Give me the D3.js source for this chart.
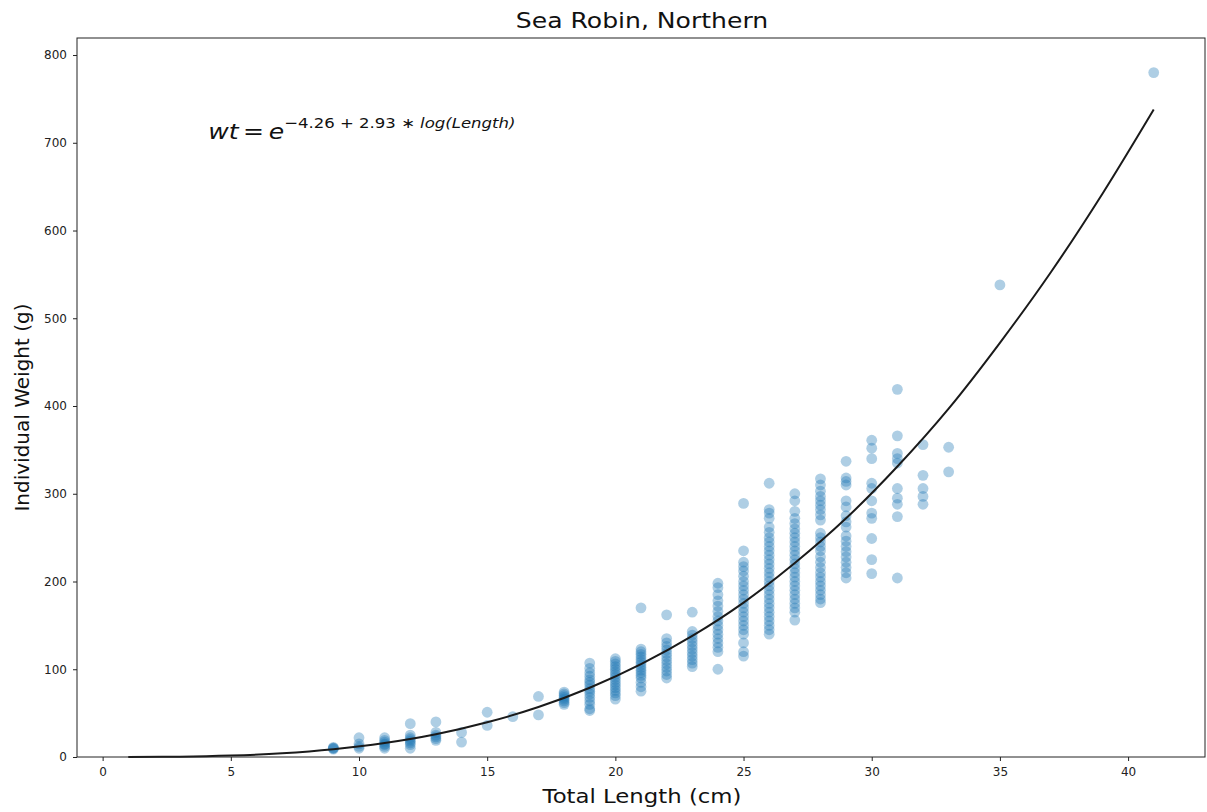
<!DOCTYPE html>
<html>
<head>
<meta charset="utf-8">
<script src="https://cdn.jsdelivr.net/npm/d3@7"></script>
<style>
  body { margin: 0; background: #fff; }
  svg { font-family: "DejaVu Sans", sans-serif; }
</style>
</head>
<body>
<svg id="chart" width="1207" height="812"></svg>
<script>
// ---- data ----
const lengths = [9, 10, 11, 12, 13, 14, 15, 16, 17, 18, 19, 20, 21, 22, 23, 24, 25, 26, 27, 28, 29, 30, 31, 32, 33, 35, 41];
const weights = [
  [9, 10, 10, 11],
  [22, 15, 12, 10],
  [22, 19, 17, 15, 14, 12, 10],
  [38, 25, 22, 20, 18, 16, 14, 10],
  [40, 28, 25, 23, 21, 19],
  [28, 17],
  [51, 36],
  [46],
  [69, 48],
  [74, 72, 70, 68, 66, 64, 62, 60],
  [107, 101, 96, 92, 88, 85, 82, 78, 75, 72, 68, 64, 60, 55, 53],
  [112, 109, 106, 103, 100, 97, 94, 91, 88, 85, 82, 79, 76, 73, 70, 66],
  [170, 123, 120, 117, 114, 111, 108, 105, 102, 99, 96, 93, 90, 85, 80, 75],
  [162, 135, 130, 126, 122, 118, 114, 110, 106, 102, 98, 94, 90],
  [165, 143, 139, 135, 131, 127, 123, 119, 115, 111, 107, 103],
  [198, 193, 185, 178, 172, 166, 160, 155, 150, 145, 140, 135, 130, 125, 120, 100],
  [289, 235, 222, 217, 212, 206, 200, 195, 190, 185, 180, 175, 170, 165, 160, 155, 150, 145, 140, 130, 120, 115],
  [312, 282, 278, 272, 262, 256, 250, 245, 240, 235, 230, 225, 220, 215, 210, 205, 200, 195, 190, 185, 180, 175, 170, 165, 160, 155, 150, 145, 140],
  [300, 292, 280, 272, 266, 260, 255, 250, 245, 240, 235, 230, 225, 220, 215, 210, 205, 200, 195, 190, 185, 180, 175, 170, 165, 156],
  [317, 310, 303, 297, 292, 287, 282, 276, 270, 255, 250, 245, 240, 235, 228, 222, 216, 210, 205, 200, 195, 190, 185, 180, 176],
  [337, 318, 314, 310, 292, 285, 275, 268, 262, 252, 246, 240, 234, 228, 222, 216, 210, 204],
  [361, 352, 340, 312, 306, 292, 278, 272, 249, 225, 209],
  [419, 366, 346, 340, 335, 306, 295, 288, 274, 204],
  [356, 321, 306, 297, 288],
  [353, 325],
  [538],
  [780]
];
// fitted curve
const curveLengths = [1, 3, 5, 7, 9, 11, 13, 15, 17, 19, 21, 23, 25, 27, 29, 31, 33, 35, 37, 39, 41];
const curveWeights = [0.01, 0.35, 1.6, 4.2, 8.8, 15.9, 25.9, 39.5, 56.9, 78.9, 105.8, 138, 176, 221, 272, 331, 397, 472, 553, 642, 738];
const xTicks = [0, 5, 10, 15, 20, 25, 30, 35, 40];
const yTicks = [0, 100, 200, 300, 400, 500, 600, 700, 800];

const points = [];
lengths.forEach((L, i) => weights[i].forEach(w => points.push({L, w})));

// ---- layout ----
const svg = d3.select("#chart");
const mLeft = 77, mRight = 1205, mTop = 38, mBottom = 757;
const x = d3.scaleLinear().domain([-1, 43]).range([mLeft, mRight]);
const y = d3.scaleLinear().domain([0, 819.4]).range([mBottom, mTop]);
const hStretch = 1.14;

// points
svg.append("g").selectAll("circle").data(points).join("circle")
  .attr("cx", d => x(d.L)).attr("cy", d => y(d.w)).attr("r", 5.4)
  .attr("fill", "#1f77b4").attr("fill-opacity", 0.36);

// curve
svg.append("path")
  .datum(curveLengths.map((L, i) => [L, curveWeights[i]]))
  .attr("d", d3.line().x(d => x(d[0])).y(d => y(d[1])).curve(d3.curveMonotoneX))
  .attr("fill", "none").attr("stroke", "#1a1a1a").attr("stroke-width", 2);

// axes
const xAxis = svg.append("g").attr("transform", `translate(0,${mBottom})`)
  .call(d3.axisBottom(x).tickValues(xTicks).tickSizeOuter(0).tickSize(4).tickPadding(6));
const yAxis = svg.append("g").attr("transform", `translate(${mLeft},0)`)
  .call(d3.axisLeft(y).tickValues(yTicks).tickSizeOuter(0).tickSize(4).tickPadding(6));
[xAxis, yAxis].forEach(g => {
  g.select(".domain").remove();
  g.selectAll("text").attr("font-size", 12).attr("fill", "#222").attr("font-family", "DejaVu Sans");
  g.selectAll("line").attr("stroke", "#222");
});

// frame
svg.append("rect").attr("x", mLeft).attr("y", mTop).attr("width", mRight - mLeft).attr("height", mBottom - mTop)
  .attr("fill", "none").attr("stroke", "#222").attr("stroke-width", 1);

// title & labels
svg.append("text").attr("transform", `translate(${(mLeft + mRight) / 2 + 1},28) scale(${hStretch},1)`)
  .attr("text-anchor", "middle").attr("font-size", 22).attr("fill", "#111")
  .text("Sea Robin, Northern");
svg.append("text").attr("transform", `translate(${(mLeft + mRight) / 2 + 1},803) scale(${hStretch},1)`)
  .attr("text-anchor", "middle").attr("font-size", 20).attr("fill", "#111")
  .text("Total Length (cm)");
svg.append("text").attr("transform", `translate(29,${(mTop + mBottom) / 2 + 10}) rotate(-90)`).attr("text-anchor", "middle")
  .attr("font-size", 20).attr("fill", "#111")
  .text("Individual Weight (g)");

// equation
const eq = svg.append("text").attr("transform", `translate(${x(4) + 3},${y(700) - 4}) scale(${hStretch},1)`)
  .attr("font-size", 22).attr("fill", "#111");
eq.append("tspan").attr("font-style", "italic").text("wt");
eq.append("tspan").attr("dx", 4).text("=");
eq.append("tspan").attr("dx", 4).attr("font-style", "italic").text("e");
const sup = eq.append("tspan").attr("font-size", 14.5).attr("dy", -11);
sup.text("−4.26 + 2.93 ∗ ");
eq.append("tspan").attr("font-size", 14.5).attr("font-style", "italic").text("log(Length)");
</script>
</body>
</html>
